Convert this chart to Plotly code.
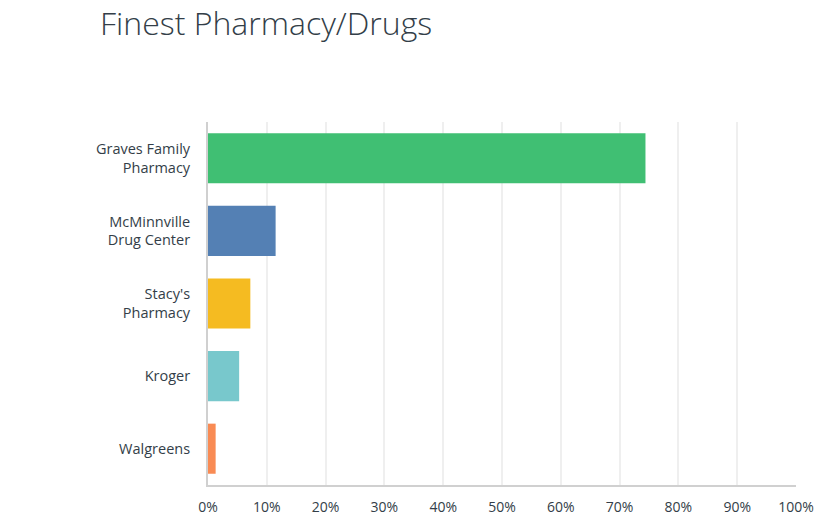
import plotly.graph_objects as go

categories = ["Graves Family<br>Pharmacy", "McMinnville<br>Drug Center", "Stacy's<br>Pharmacy", "Kroger", "Walgreens"]
values = [74.4, 11.5, 7.2, 5.3, 1.3]
colors = ["#40BF73", "#5480B4", "#F5BB21", "#78C8CC", "#F98B54"]
x_ticks = list(range(0, 101, 10))
x_tick_labels = [f"{v}%" for v in x_ticks]

W, H = 814, 523

fig = go.Figure(
    go.Bar(
        y=categories,
        x=values,
        orientation="h",
        marker=dict(color=colors, line=dict(width=0)),
        width=0.69,
        hoverinfo="x+y",
    )
)

fig.update_layout(
    width=W,
    height=H,
    paper_bgcolor="white",
    plot_bgcolor="white",
    margin=dict(l=208, r=18, t=122, b=38),
    showlegend=False,
    title=dict(
        text="Finest Pharmacy/Drugs",
        x=100 / W,
        xref="container",
        xanchor="left",
        y=1 - 24 / H,
        yref="container",
        yanchor="middle",
        font=dict(family="Open Sans", size=32, color="#333E48", weight=300),
    ),
    font=dict(family="Open Sans", color="#333E48"),
)

fig.update_xaxes(
    range=[0, 100],
    tickvals=x_ticks,
    ticktext=x_tick_labels,
    showgrid=True,
    gridcolor="#EFEFEF",
    gridwidth=2,
    zeroline=False,
    showline=True,
    linecolor="#D0D0D0",
    linewidth=2,
    ticks="",
    ticklabelstandoff=8,
    tickfont=dict(size=14, color="#333E48"),
    automargin=False,
    fixedrange=True,
)
fig.update_yaxes(
    autorange="reversed",
    showgrid=False,
    showline=True,
    linecolor="#D0D0D0",
    linewidth=2,
    ticks="",
    ticklabelstandoff=13,
    tickfont=dict(size=14.5, color="#333E48"),
    automargin=False,
    fixedrange=True,
)

fig.write_html(
    "out.html",
    config={"displayModeBar": False},
    post_script="document.body.style.margin='0';document.body.style.overflow='hidden';",
)
